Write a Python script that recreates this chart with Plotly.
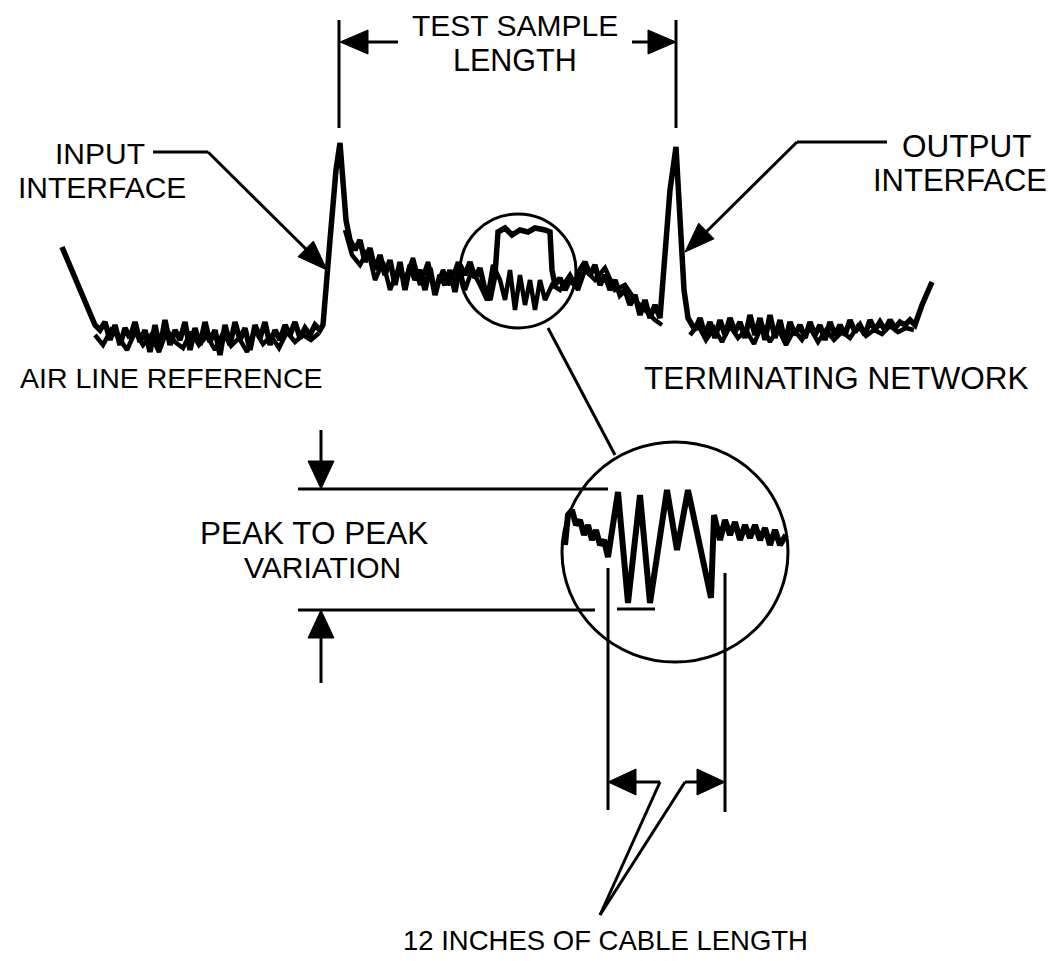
import math
import plotly.graph_objects as go

W, H = 1054, 961
PAGE_MARGIN = 8   # default body margin of the written html page
FONT = "Liberation Sans, Arial, sans-serif"

# ---- main reflection trace (pixel-space units) ----
trace_x = [62, 78, 95, 100, 105, 110, 115, 120, 125, 130, 135, 140, 145, 150, 155, 160, 165, 170,
           175, 180, 185, 190, 195, 200, 205, 210, 215, 220, 225, 230, 235, 240, 245, 250, 255,
           260, 265, 270, 275, 280, 285, 290, 295, 300, 305, 310, 315, 320, 323, 330, 336, 340,
           343, 346, 350, 355, 360, 365, 370, 375, 380, 385, 390, 395, 400, 405, 410, 415, 420,
           425, 430, 435, 440, 445, 450, 455, 460, 465, 470, 475, 480, 485, 490, 495, 498, 505,
           512, 520, 528, 535, 545, 550, 552, 555, 560, 565, 570, 575, 580, 585, 590, 595, 600,
           605, 610, 615, 620, 625, 630, 635, 640, 645, 650, 655, 660, 665, 670, 676, 680, 684,
           688, 695, 700, 705, 710, 715, 720, 725, 730, 735, 740, 745, 750, 755, 760, 765, 770,
           775, 780, 785, 790, 795, 800, 805, 810, 815, 820, 825, 830, 835, 840, 845, 850, 855,
           860, 865, 870, 875, 880, 885, 890, 895, 900, 905, 910, 915, 922, 932]
trace_y = [247, 285, 325, 330, 322, 340, 325, 345, 328, 338, 322, 342, 330, 352, 325, 348, 320, 345,
           330, 340, 322, 350, 328, 345, 322, 342, 330, 355, 325, 345, 322, 340, 328, 350, 325,
           338, 322, 345, 330, 340, 325, 335, 322, 338, 328, 335, 325, 330, 325, 240, 170, 143,
           175, 220, 240, 250, 240, 262, 248, 270, 255, 275, 260, 285, 262, 290, 265, 280, 270,
           290, 268, 295, 275, 285, 270, 292, 265, 275, 262, 278, 268, 290, 300, 275, 232, 228,
           235, 230, 232, 228, 230, 232, 270, 285, 278, 290, 280, 285, 270, 262, 275, 265, 285,
           275, 290, 280, 295, 290, 305, 295, 315, 300, 318, 305, 318, 250, 190, 147, 220, 290,
           318, 330, 318, 335, 322, 338, 320, 335, 318, 332, 322, 338, 315, 335, 318, 340, 315,
           338, 320, 342, 322, 335, 325, 338, 322, 335, 325, 340, 322, 335, 325, 335, 320, 332,
           325, 335, 320, 330, 322, 330, 320, 328, 322, 325, 320, 325, 305, 282]

# second, overlapping sweep (thickens the middle band)
trace2_x = [345, 352, 360, 368, 375, 383, 390, 398, 405, 413, 420, 428, 435, 443, 450, 458, 465,
            472, 480, 487, 493, 500, 505, 510, 515, 520, 525, 530, 535, 540, 545, 552, 560, 570,
            578, 585, 595, 605, 615, 625, 635, 645, 655, 662]
trace2_y = [230, 255, 265, 250, 280, 262, 290, 270, 280, 258, 285, 262, 290, 270, 285, 262, 290,
            270, 285, 300, 265, 280, 300, 270, 310, 275, 305, 280, 310, 280, 300, 285, 290, 275,
            290, 270, 280, 268, 290, 285, 300, 310, 320, 325]

# baseline second sweeps
base2_x = [95, 103, 111, 119, 127, 135, 143, 151, 159, 167, 175, 183, 191, 199, 207, 215, 223,
           231, 239, 247, 255, 263, 271, 279, 287, 295, 303, 311, 319]
base2_y = [335, 345, 330, 338, 350, 332, 345, 335, 352, 330, 342, 348, 332, 345, 336, 350, 333,
           346, 338, 352, 330, 344, 336, 348, 332, 342, 335, 340, 333]
base3_x = [690, 698, 706, 714, 722, 730, 738, 746, 754, 762, 770, 778, 786, 794, 802, 810, 818,
           826, 834, 842, 850, 858, 866, 874, 882, 890, 898, 906, 914]
base3_y = [335, 325, 340, 328, 342, 326, 338, 330, 344, 325, 342, 328, 345, 330, 340, 328, 342,
           330, 340, 332, 338, 326, 336, 330, 334, 326, 332, 328, 330]

# ---- magnified section shown in the large circle ----
zoom_x = [565, 568, 572, 576, 580, 584, 588, 592, 596, 600, 604, 608, 618, 628, 640, 650, 667,
          677, 688, 711, 714, 720, 725, 730, 735, 740, 745, 750, 755, 760, 765, 770, 775, 780, 786]
zoom_y = [545, 515, 510, 525, 520, 535, 525, 540, 530, 545, 540, 557, 492, 603, 495, 603, 490,
          550, 490, 598, 515, 540, 520, 535, 522, 540, 525, 538, 525, 540, 528, 545, 530, 545, 535]

# ---- labels: (text, x, y, font size) ----
labels = [
    ("TEST SAMPLE", 515, 25, 30), ("LENGTH", 515, 60, 30.5),
    ("INPUT", 100, 153, 30), ("INTERFACE", 102, 187, 30),
    ("OUTPUT", 967, 146, 31.5), ("INTERFACE", 960, 180, 31),
    ("AIR LINE REFERENCE", 171, 378, 28.5), ("TERMINATING NETWORK", 836, 378, 31.5),
    ("PEAK TO PEAK", 314, 533, 31.5), ("VARIATION", 322, 567, 30),
    ("12 INCHES OF CABLE LENGTH", 605, 940, 27.5),
]

# ---- guide lines (x0, y0, x1, y1) ----
guide_lines = [
    (339, 20, 339, 128), (676, 20, 676, 128),          # test sample length bounds
    (398, 42, 355, 42), (632, 42, 660, 42),            # arrow shafts
    (153, 152, 208, 152), (208, 152, 315, 258),        # input leader
    (887, 142, 797, 142), (797, 142, 697, 241),        # output leader
    (548, 328, 615, 455),                               # circle connector
    (298, 489, 608, 489), (298, 610, 595, 610), (617, 609, 655, 609),  # p-p lines
    (321, 430, 321, 470), (321, 683, 321, 630),        # p-p arrow shafts
    (608, 568, 608, 810), (725, 573, 725, 812),        # 12 in bounds
    (625, 782, 660, 782), (660, 782, 600, 915),
    (685, 782, 708, 782), (685, 782, 600, 915),
]

# arrowheads: (tip_x, tip_y, from_x, from_y, length, half_width)
arrowheads = [
    (340, 42, 398, 42, 28, 12), (676, 42, 632, 42, 28, 12),
    (327, 270, 208, 152, 30, 11), (685, 252, 797, 142, 30, 11),
    (321, 489, 321, 430, 28, 13), (321, 610, 321, 683, 28, 13),
    (608, 782, 660, 782, 28, 13), (725, 782, 685, 782, 28, 13),
]

# circles: (cx, cy, rx, ry)
circles = [(518, 271, 58, 57), (675, 552, 113, 110)]

fig = go.Figure()
for xs, ys, w in [(trace_x, trace_y, 5.5), (trace2_x, trace2_y, 4.5), (base2_x, base2_y, 4.5),
                  (base3_x, base3_y, 4.5), (zoom_x, zoom_y, 6)]:
    fig.add_trace(go.Scatter(x=xs, y=ys, mode="lines",
                             line=dict(color="black", width=w, shape="linear"),
                             hoverinfo="skip", showlegend=False))

shapes = []
for (x0, y0, x1, y1) in guide_lines:
    shapes.append(dict(type="line", x0=x0, y0=y0, x1=x1, y1=y1, xref="x", yref="y",
                       line=dict(color="black", width=3)))
for (cx, cy, rx, ry) in circles:
    shapes.append(dict(type="circle", x0=cx - rx, x1=cx + rx, y0=cy - ry, y1=cy + ry,
                       xref="x", yref="y", line=dict(color="black", width=3)))
for (tx, ty, fx, fy, L, hw) in arrowheads:
    dx, dy = tx - fx, ty - fy
    n = math.hypot(dx, dy)
    ux, uy = dx / n, dy / n
    bx, by = tx - ux * L, ty - uy * L
    px, py = -uy * hw, ux * hw
    path = f"M {tx} {ty} L {bx + px} {by + py} L {bx - px} {by - py} Z"
    shapes.append(dict(type="path", path=path, xref="x", yref="y",
                       fillcolor="black", line=dict(color="black", width=1)))

annotations = [dict(text=t, x=x, y=y, xref="x", yref="y", showarrow=False,
                    xanchor="center", yanchor="middle",
                    font=dict(family=FONT, size=fs, color="black"))
               for (t, x, y, fs) in labels]

fig.update_layout(
    width=W, height=H, margin=dict(l=0, r=0, t=0, b=0),
    paper_bgcolor="white", plot_bgcolor="white",
    xaxis=dict(range=[PAGE_MARGIN, W + PAGE_MARGIN], visible=False, fixedrange=True),
    yaxis=dict(range=[H + PAGE_MARGIN, PAGE_MARGIN], visible=False, fixedrange=True),
    shapes=shapes, annotations=annotations, showlegend=False,
)
fig.write_html("out.html")
